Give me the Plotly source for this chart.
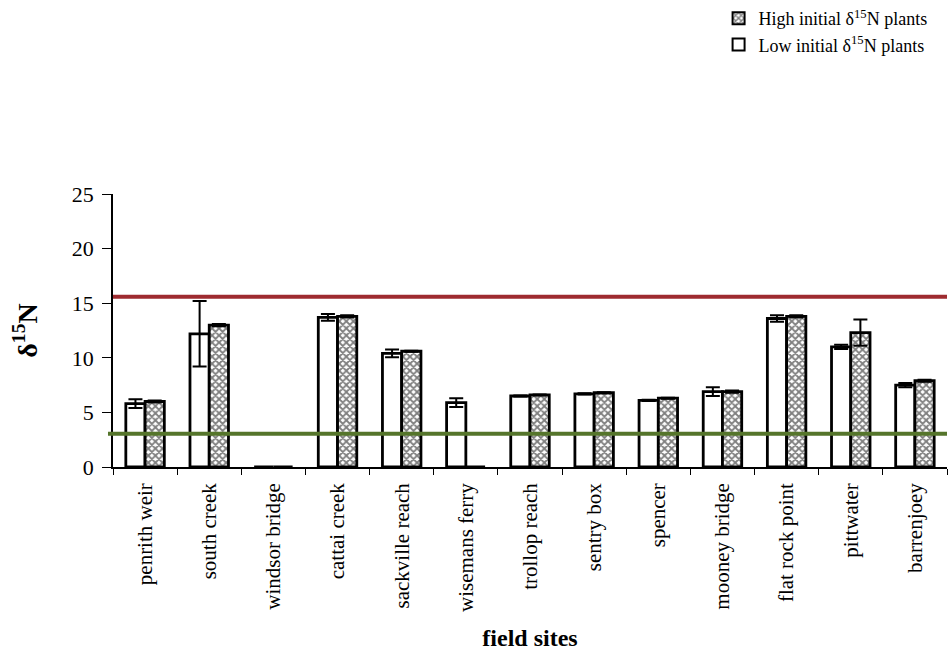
import plotly.graph_objects as go

# Field sites along the river, upstream to downstream
sites = ["penrith weir", "south creek", "windsor bridge", "cattai creek",
         "sackville reach", "wisemans ferry", "trollop reach", "sentry box",
         "spencer", "mooney bridge", "flat rock point", "pittwater", "barrenjoey"]

# Mean delta-15N of transplanted plants, with error bars
low_vals = [5.8, 12.2, 0, 13.7, 10.4, 5.9, 6.5, 6.7, 6.1, 6.9, 13.6, 11.0, 7.5]
low_err = [0.4, 3.0, 0, 0.3, 0.35, 0.4, 0.05, 0.05, 0.05, 0.4, 0.3, 0.2, 0.2]
high_vals = [6.0, 13.0, 0, 13.8, 10.6, 0, 6.6, 6.8, 6.3, 6.9, 13.8, 12.3, 7.9]
high_err = [0.1, 0.1, 0, 0.1, 0.05, 0, 0.05, 0.05, 0.05, 0.1, 0.1, 1.2, 0.1]

# Initial delta-15N of the two plant groups (reference lines)
high_initial = 15.6
low_initial = 3.05

y_ticks = [0, 5, 10, 15, 20, 25]

serif = "Liberation Serif, Times New Roman, serif"

fig = go.Figure()

fig.add_trace(go.Bar(
    x=sites, y=low_vals, name="Low initial δ<sup>15</sup>N plants",
    marker=dict(color="white", line=dict(color="black", width=2.8)),
    error_y=dict(type="data", array=low_err, visible=True,
                 color="black", thickness=2, width=7),
))
fig.add_trace(go.Bar(
    x=sites, y=high_vals, name="High initial δ<sup>15</sup>N plants",
    marker=dict(color="white", line=dict(color="black", width=2.8),
                pattern=dict(shape="x", size=5, solidity=0.6,
                             fgcolor="#000000", bgcolor="white")),
    error_y=dict(type="data", array=high_err, visible=True,
                 color="black", thickness=2, width=7),
))

# Horizontal reference lines at the initial values
fig.add_shape(type="line", xref="paper", x0=0, x1=1, yref="y",
              y0=high_initial, y1=high_initial,
              line=dict(color="#9e2b30", width=4), layer="above")
fig.add_shape(type="line", xref="paper", x0=-0.006, x1=1, yref="y",
              y0=low_initial, y1=low_initial,
              line=dict(color="#55752b", width=4), layer="above")

fig.update_layout(
    width=948, height=655,
    margin=dict(l=113, r=1, t=194, b=188, autoexpand=False),
    paper_bgcolor="white", plot_bgcolor="white",
    barmode="group", bargap=0.4, bargroupgap=0,
    font=dict(family=serif, color="black"),
    showlegend=True,
    legend=dict(
        xref="container", yref="container",
        x=0.758, y=1.0, xanchor="left", yanchor="top",
        traceorder="reversed",
        font=dict(family=serif, size=18, color="black"),
        bgcolor="rgba(0,0,0,0)", itemsizing="constant",
        tracegroupgap=0,
    ),
    xaxis=dict(
        type="category", showline=True, linecolor="black", linewidth=1.5,
        ticks="outside", tickson="boundaries", ticklen=6, tickcolor="black",
        tickangle=-90, tickfont=dict(family=serif, size=21),
        ticklabelstandoff=6,
        showgrid=False,
        title=dict(text="<b>field sites</b>", font=dict(family=serif, size=24),
                   standoff=18),
    ),
    yaxis=dict(
        range=[0, 25], tickvals=y_ticks, showline=True, linecolor="black",
        linewidth=1.5, ticks="outside", ticklen=9, tickcolor="black",
        tickfont=dict(family=serif, size=22), showgrid=False, zeroline=False,
        ticklabelstandoff=4,
        title=dict(text="<b>δ<sup>15</sup>N</b>", font=dict(family=serif, size=28),
                   standoff=26),
    ),
)

fig.write_html("out.html")
